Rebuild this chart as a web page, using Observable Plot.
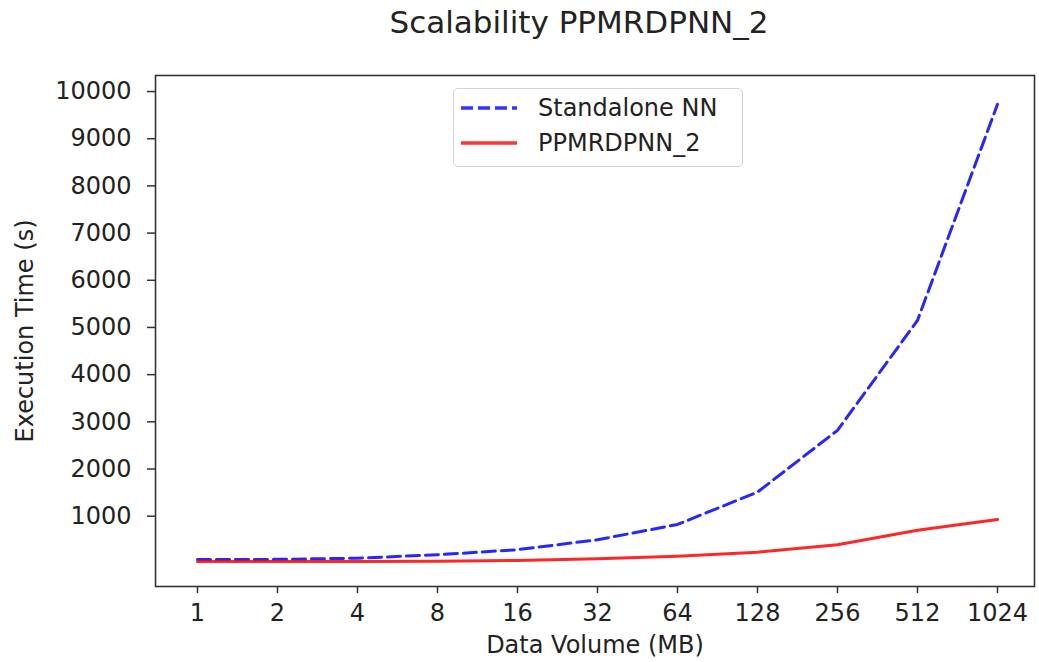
<!DOCTYPE html>
<html><head><meta charset="utf-8">
<script src="https://cdn.jsdelivr.net/npm/d3@7"></script>
<script src="https://cdn.jsdelivr.net/npm/@observablehq/plot@0.6"></script>
<style>
body{margin:0;background:#fff;}
#wrap{position:relative;width:1039px;height:662px;font-family:"DejaVu Sans",sans-serif;color:#222;background:#fff;}
#title{height:55px;box-sizing:border-box;padding-top:4px;padding-left:119px;text-align:center;font-size:31px;line-height:normal;white-space:nowrap;}
#legend{position:absolute;left:453px;top:88px;width:290px;height:79px;box-sizing:border-box;border:1.5px solid #d4d4d4;border-radius:5px;background:rgba(255,255,255,0.8);}
.item{position:absolute;left:6px;height:30px;display:flex;align-items:center;font-size:24px;white-space:nowrap;}
.item svg{margin-right:20px;}
</style></head>
<body>
<div id="wrap">
  <div id="title"></div>
  <div id="chart"></div>
  <div id="legend"></div>
</div>
<script>
// ---- data ----
const titleText = "Scalability PPMRDPNN_2";
const xLabel = "Data Volume (MB)";
const yLabel = "Execution Time (s)";
const sizes = ["1", "2", "4", "8", "16", "32", "64", "128", "256", "512", "1024"];
const seriesNames = ["Standalone NN", "PPMRDPNN_2"];
const standaloneNN = [83, 85, 110, 182, 290, 500, 825, 1510, 2820, 5150, 9730];
const ppmrdpnn2 = [40, 40, 40, 45, 62, 97, 153, 237, 394, 700, 930];
const yTicks = [1000, 2000, 3000, 4000, 5000, 6000, 7000, 8000, 9000, 10000];

// ---- build tables ----
const blueRows = sizes.map((s, i) => ({size: s, value: standaloneNN[i], series: seriesNames[0]}));
const redRows = sizes.map((s, i) => ({size: s, value: ppmrdpnn2[i], series: seriesNames[1]}));

document.getElementById("title").textContent = titleText;

const chart = Plot.plot({
  width: 1039,
  height: 607,
  marginTop: 20,
  marginBottom: 76,
  marginLeft: 155,
  marginRight: 5,
  style: {fontFamily: "DejaVu Sans, sans-serif", fontSize: "24px", color: "#222", background: "white", overflow: "visible"},
  x: {type: "point", domain: sizes, padding: 0.466, align: 0.533},
  y: {domain: [-490, 10340]},
  marks: [
    Plot.axisX({ticks: sizes, tickSize: 7, tickPadding: 10, stroke: "#333", strokeWidth: 1.5, fontSize: 24,
      label: xLabel, labelAnchor: "center", labelOffset: 66, labelArrow: "none"}),
    Plot.axisY({ticks: yTicks, tickSize: 8, tickPadding: 16, stroke: "#333", strokeWidth: 1.5, fontSize: 24,
      tickFormat: d => String(d), label: yLabel, labelAnchor: "center", labelOffset: 140, labelArrow: "none"}),
    Plot.line(blueRows, {x: "size", y: "value", stroke: "#0000ff", strokeOpacity: 0.85, strokeWidth: 3, strokeDasharray: "13,6"}),
    Plot.line(redRows, {x: "size", y: "value", stroke: "#ff0000", strokeOpacity: 0.85, strokeWidth: 3}),
    Plot.frame({stroke: "#333", strokeWidth: 1.6})
  ]
});
document.getElementById("chart").appendChild(chart);

// ---- legend (HTML overlay) ----
const legend = document.getElementById("legend");
const styles = [
  {stroke: "#0000ff", dash: "12,5", top: 4},
  {stroke: "#ff0000", dash: null, top: 39}
];
seriesNames.forEach((name, i) => {
  const st = styles[i];
  const item = document.createElement("div");
  item.className = "item";
  item.style.top = st.top + "px";
  const ns = "http://www.w3.org/2000/svg";
  const svg = document.createElementNS(ns, "svg");
  svg.setAttribute("width", "58");
  svg.setAttribute("height", "8");
  const ln = document.createElementNS(ns, "line");
  ln.setAttribute("x1", "1"); ln.setAttribute("x2", "57");
  ln.setAttribute("y1", "4"); ln.setAttribute("y2", "4");
  ln.setAttribute("stroke", st.stroke);
  ln.setAttribute("stroke-opacity", "0.8");
  ln.setAttribute("stroke-width", "3.5");
  if (st.dash) ln.setAttribute("stroke-dasharray", st.dash);
  svg.appendChild(ln);
  item.appendChild(svg);
  const span = document.createElement("span");
  span.textContent = name;
  item.appendChild(span);
  legend.appendChild(item);
});
</script>
</body></html>
